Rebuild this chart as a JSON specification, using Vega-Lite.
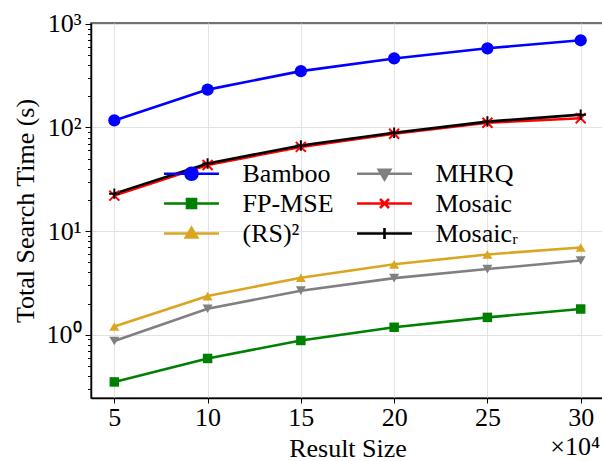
{
  "$schema": "https://vega.github.io/schema/vega-lite/v6.json",
  "width": 513,
  "height": 375,
  "autosize": {"type": "none"},
  "padding": {"left": 91, "top": 23, "right": 0, "bottom": 63},
  "background": "white",
  "title": {
    "text": "×10⁴",
    "orient": "bottom",
    "anchor": "end",
    "frame": "group",
    "font": "Liberation Serif, Times New Roman, serif",
    "fontSize": 26,
    "fontWeight": "normal",
    "color": "black",
    "offset": -27,
    "dx": -4
  },
  "config": {
    "view": {"stroke": "#444444", "strokeWidth": 1.5},
    "axis": {
      "labelFont": "Liberation Serif, Times New Roman, serif",
      "labelFontSize": 26,
      "labelColor": "black",
      "titleFont": "Liberation Serif, Times New Roman, serif",
      "titleFontSize": 26,
      "titleFontWeight": "normal",
      "titleColor": "black",
      "domainColor": "black",
      "domainWidth": 1.5,
      "tickColor": "black",
      "gridColor": "#e3e3e3",
      "gridWidth": 1
    },
    "legend": {
      "title": null,
      "orient": "none",
      "legendX": 84,
      "legendY": 134,
      "columns": 2,
      "columnPadding": 17,
      "rowPadding": 0,
      "labelOffset": 34.5,
      "labelFont": "Liberation Serif, Times New Roman, serif",
      "labelFontSize": 26,
      "labelColor": "black",
      "symbolSize": 900,
      "symbolStrokeWidth": 2.6,
      "symbolOpacity": 1
    }
  },
  "data": {
    "values": [
      {"size": 5, "time": 117, "method": "Bamboo"},
      {"size": 10, "time": 232, "method": "Bamboo"},
      {"size": 15, "time": 350, "method": "Bamboo"},
      {"size": 20, "time": 464, "method": "Bamboo"},
      {"size": 25, "time": 581, "method": "Bamboo"},
      {"size": 30, "time": 695, "method": "Bamboo"},
      {"size": 5, "time": 0.35, "method": "FP-MSE"},
      {"size": 10, "time": 0.59, "method": "FP-MSE"},
      {"size": 15, "time": 0.88, "method": "FP-MSE"},
      {"size": 20, "time": 1.18, "method": "FP-MSE"},
      {"size": 25, "time": 1.47, "method": "FP-MSE"},
      {"size": 30, "time": 1.77, "method": "FP-MSE"},
      {"size": 5, "time": 1.2, "method": "(RS)²"},
      {"size": 10, "time": 2.36, "method": "(RS)²"},
      {"size": 15, "time": 3.55, "method": "(RS)²"},
      {"size": 20, "time": 4.78, "method": "(RS)²"},
      {"size": 25, "time": 5.95, "method": "(RS)²"},
      {"size": 30, "time": 6.95, "method": "(RS)²"},
      {"size": 5, "time": 0.87, "method": "MHRQ"},
      {"size": 10, "time": 1.78, "method": "MHRQ"},
      {"size": 15, "time": 2.66, "method": "MHRQ"},
      {"size": 20, "time": 3.52, "method": "MHRQ"},
      {"size": 25, "time": 4.3, "method": "MHRQ"},
      {"size": 30, "time": 5.2, "method": "MHRQ"},
      {"size": 5, "time": 22, "method": "Mosaic"},
      {"size": 10, "time": 43.5, "method": "Mosaic"},
      {"size": 15, "time": 65, "method": "Mosaic"},
      {"size": 20, "time": 87, "method": "Mosaic"},
      {"size": 25, "time": 111, "method": "Mosaic"},
      {"size": 30, "time": 123, "method": "Mosaic"},
      {"size": 5, "time": 23, "method": "Mosaicᵣ"},
      {"size": 10, "time": 45, "method": "Mosaicᵣ"},
      {"size": 15, "time": 67, "method": "Mosaicᵣ"},
      {"size": 20, "time": 89, "method": "Mosaicᵣ"},
      {"size": 25, "time": 114, "method": "Mosaicᵣ"},
      {"size": 30, "time": 133, "method": "Mosaicᵣ"}
    ]
  },
  "encoding": {
    "x": {
      "field": "size",
      "type": "quantitative",
      "scale": {"domain": [3.75, 31.25], "nice": false, "zero": false},
      "axis": {
        "title": "Result Size",
        "values": [5, 10, 15, 20, 25, 30],
        "grid": true,
        "tickSize": 5,
        "labelPadding": 1,
        "titlePadding": 5
      }
    },
    "y": {
      "field": "time",
      "type": "quantitative",
      "scale": {"type": "log", "domain": [0.245, 1020], "nice": false},
      "axis": {
        "title": "Total Search Time (s)",
        "values": [0.3, 0.4, 0.5, 0.6, 0.7, 0.8, 0.9, 1, 2, 3, 4, 5, 6, 7, 8, 9, 10, 20, 30, 40, 50, 60, 70, 80, 90, 100, 200, 300, 400, 500, 600, 700, 800, 900, 1000],
        "labelExpr": "datum.value == 1000 ? '10³' : datum.value == 100 ? '10²' : datum.value == 10 ? '10¹' : datum.value == 1 ? '10⁰' : ''",
        "labelOverlap": false,
        "grid": true,
        "gridOpacity": {"condition": {"test": "abs(log(datum.value)/LN10 - round(log(datum.value)/LN10)) < 0.000001", "value": 1}, "value": 0},
        "tickSize": {"condition": {"test": "abs(log(datum.value)/LN10 - round(log(datum.value)/LN10)) < 0.000001", "value": 6}, "value": 3.5},
        "labelPadding": 4,
        "titlePadding": 8
      }
    },
    "color": {
      "field": "method",
      "type": "nominal",
      "scale": {
        "domain": ["Bamboo", "FP-MSE", "(RS)²", "MHRQ", "Mosaic", "Mosaicᵣ"],
        "range": ["#0000ff", "#008000", "#daa520", "#808080", "#ff0000", "#000000"]
      }
    }
  },
  "layer": [
    {
      "mark": {"type": "line", "strokeWidth": 2.6},
      "encoding": {"order": {"field": "size"}}
    },
    {
      "transform": [{"filter": "datum.size < 0"}],
      "mark": {"type": "point", "filled": true, "strokeWidth": 2.6},
      "encoding": {
        "stroke": {
          "field": "method",
          "type": "nominal",
          "scale": {
            "domain": ["Bamboo", "FP-MSE", "(RS)²", "MHRQ", "Mosaic", "Mosaicᵣ"],
            "range": ["#0000ff", "#008000", "#daa520", "#808080", "#ff0000", "#000000"]
          }
        },
        "shape": {
          "field": "method",
          "type": "nominal",
          "scale": {
            "domain": ["Bamboo", "FP-MSE", "(RS)²", "MHRQ", "Mosaic", "Mosaicᵣ"],
            "range": [
              "M-1.83,0H1.83M-0.4,0A0.4,0.4 0 1,0 0.4,0A0.4,0.4 0 1,0 -0.4,0Z",
              "M-1.83,0H1.83M-0.3,-0.3H0.3V0.3H-0.3Z",
              "M-1.83,0H1.83M-0.38,0.27L0.38,0.27L0,-0.38Z",
              "M-1.83,0H1.83M-0.38,-0.27L0.38,-0.27L0,0.38Z",
              "M-1.83,0H1.83M-0.3,-0.3L0.3,0.3M-0.3,0.3L0.3,-0.3",
              "M-1.83,0H1.83M0,-0.37V0.37"
            ]
          }
        }
      }
    },
    {
      "transform": [{"filter": "datum.method === 'Bamboo'"}],
      "mark": {"type": "point", "shape": "circle", "filled": true, "size": 150, "opacity": 1}
    },
    {
      "transform": [{"filter": "datum.method === 'FP-MSE'"}],
      "mark": {"type": "point", "shape": "square", "filled": true, "size": 90, "opacity": 1}
    },
    {
      "transform": [{"filter": "datum.method === '(RS)²'"}],
      "mark": {"type": "point", "shape": "triangle-up", "filled": true, "size": 100, "opacity": 1}
    },
    {
      "transform": [{"filter": "datum.method === 'MHRQ'"}],
      "mark": {"type": "point", "shape": "triangle-down", "filled": true, "size": 100, "opacity": 1}
    },
    {
      "transform": [{"filter": "datum.method === 'Mosaic'"}],
      "mark": {"type": "point", "shape": "M-1,-1L1,1M-1,1L1,-1", "filled": false, "size": 100, "strokeWidth": 2, "opacity": 1}
    },
    {
      "transform": [{"filter": "datum.method === 'Mosaicᵣ'"}],
      "mark": {"type": "point", "shape": "M-1,0H1M0,-1V1", "filled": false, "size": 110, "strokeWidth": 2, "opacity": 1}
    }
  ]
}
